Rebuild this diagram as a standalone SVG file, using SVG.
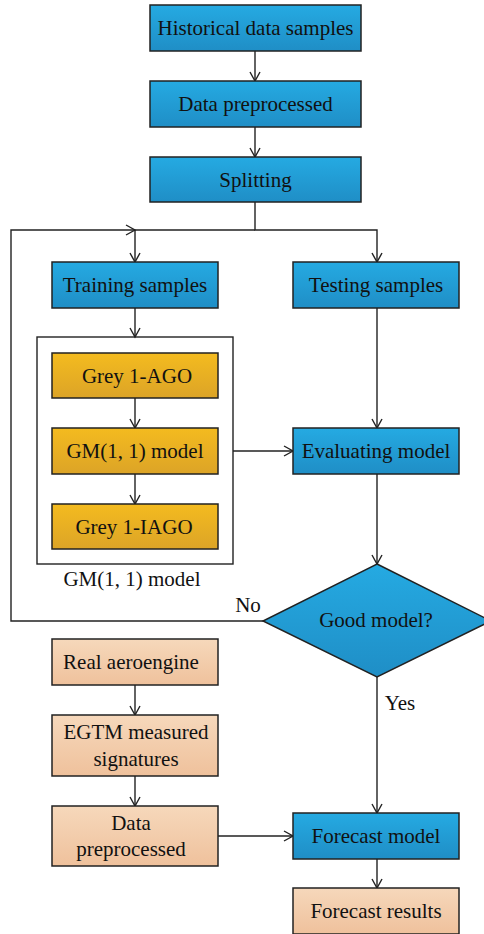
<svg xmlns="http://www.w3.org/2000/svg" width="484" height="934" viewBox="0 0 484 934">
<style>
text{font-family:"Liberation Serif","Times New Roman",serif;font-size:21px;fill:#111;text-anchor:middle}
.b{fill:url(#gb);stroke:#222;stroke-width:1.5}
.y{fill:url(#gy);stroke:#222;stroke-width:1.5}
.p{fill:url(#gp);stroke:#222;stroke-width:1.5}
.c{fill:none;stroke:#222;stroke-width:1.4}
</style>
<defs>
<linearGradient id="gb" x1="0" y1="0" x2="0" y2="1"><stop offset="0" stop-color="#25aae2"/><stop offset="1" stop-color="#1f8ec6"/></linearGradient>
<linearGradient id="gy" x1="0" y1="0" x2="0" y2="1"><stop offset="0" stop-color="#f4bb1f"/><stop offset="1" stop-color="#dca427"/></linearGradient>
<linearGradient id="gp" x1="0" y1="0" x2="0" y2="1"><stop offset="0" stop-color="#f6d8bb"/><stop offset="1" stop-color="#efc19c"/></linearGradient>
<marker id="a" markerWidth="12" markerHeight="12" refX="10" refY="6" orient="auto" markerUnits="userSpaceOnUse"><path d="M1,1 L10,6 L1,11" fill="none" stroke="#222" stroke-width="1.4"/></marker>
</defs>
<g id="connectors" class="c">
<path d="M255,51 V81" marker-end="url(#a)"/>
<path d="M255,127 V157" marker-end="url(#a)"/>
<path d="M255,202 V230 H377 V262" marker-end="url(#a)"/>
<path d="M255,230 H135 V262" marker-end="url(#a)"/>
<path d="M263,621 H11 V230 H135" marker-end="url(#a)"/>
<path d="M135,308 V337" marker-end="url(#a)"/>
<path d="M135,398 V428" marker-end="url(#a)"/>
<path d="M135,474 V504" marker-end="url(#a)"/>
<path d="M377,308 V428" marker-end="url(#a)"/>
<path d="M233,451 H293" marker-end="url(#a)"/>
<path d="M377,474 V564" marker-end="url(#a)"/>
<path d="M377,677 V813" marker-end="url(#a)"/>
<path d="M135,685 V715" marker-end="url(#a)"/>
<path d="M135,776 V806" marker-end="url(#a)"/>
<path d="M218,836 H293" marker-end="url(#a)"/>
<path d="M377,859 V888" marker-end="url(#a)"/>
</g>
<g id="historical"><rect class="b" x="150" y="5" width="211" height="46"/><text x="255.5" y="35">Historical data samples</text></g>
<g id="preprocessed"><rect class="b" x="150" y="81" width="211" height="46"/><text x="255.5" y="111">Data preprocessed</text></g>
<g id="splitting"><rect class="b" x="150" y="157" width="211" height="45"/><text x="255.5" y="187">Splitting</text></g>
<g id="training"><rect class="b" x="52" y="262" width="166" height="46"/><text x="135" y="292">Training samples</text></g>
<g id="testing"><rect class="b" x="293" y="262" width="166" height="46"/><text x="376" y="292">Testing samples</text></g>
<g id="gm-container"><rect x="37" y="337" width="196" height="227" fill="none" stroke="#222" stroke-width="1.4"/><text x="132" y="586">GM(1, 1) model</text></g>
<g id="ago"><rect class="y" x="52" y="353" width="166" height="45"/><text x="137" y="383">Grey 1-AGO</text></g>
<g id="gm"><rect class="y" x="52" y="428" width="166" height="46"/><text x="135" y="458">GM(1, 1) model</text></g>
<g id="iago"><rect class="y" x="52" y="504" width="166" height="45"/><text x="134" y="534">Grey 1-IAGO</text></g>
<g id="evaluating"><rect class="b" x="293" y="428" width="166" height="46"/><text x="376" y="458">Evaluating model</text></g>
<g id="good"><path class="b" d="M377,564 L491,621 L377,677 L263,621 Z"/><text x="376" y="627">Good model?</text></g>
<g id="no-label"><text x="248" y="612">No</text></g>
<g id="yes-label"><text x="400" y="710">Yes</text></g>
<g id="real"><rect class="p" x="52" y="639" width="166" height="46"/><text x="131" y="669">Real aeroengine</text></g>
<g id="egtm"><rect class="p" x="52" y="715" width="166" height="61"/><text x="136" y="739">EGTM measured</text><text x="136" y="766">signatures</text></g>
<g id="data2"><rect class="p" x="52" y="806" width="166" height="60"/><text x="131" y="830">Data</text><text x="131" y="856">preprocessed</text></g>
<g id="forecast"><rect class="b" x="293" y="813" width="166" height="46"/><text x="376" y="843">Forecast model</text></g>
<g id="results"><rect class="p" x="293" y="888" width="166" height="46"/><text x="376" y="918">Forecast results</text></g>
</svg>
